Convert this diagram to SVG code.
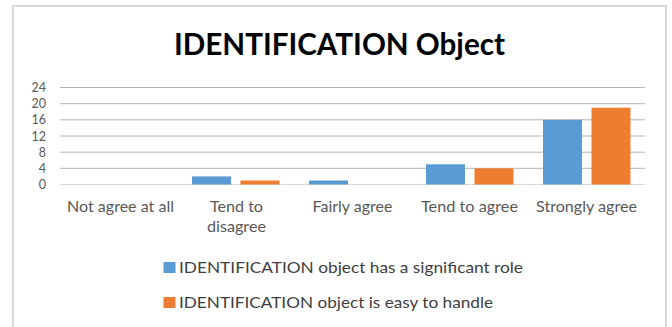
<svg xmlns="http://www.w3.org/2000/svg" width="672" height="327" viewBox="0 0 672 327">
<style>
.grid{stroke:#b4b4b4;stroke-width:1}
.ax{font-family:Lato,"Open Sans",sans-serif;font-size:12.5px;fill:#595959;text-anchor:end}
.cat{font-family:Lato,"Open Sans",sans-serif;font-size:15px;fill:#595959;text-anchor:middle}
.leg{font-family:Lato,"Open Sans",sans-serif;font-size:15px;fill:#404040}
.s1{fill:#5B9BD5}
.s2{fill:#ED7D31}
</style>
<rect x="0" y="0" width="672" height="327" fill="#ffffff"/>
<rect x="13" y="6" width="653" height="335" fill="#ffffff" stroke="#d9d9d9" stroke-width="2"/>
<g id="title">
<text x="339.5" y="55" text-anchor="middle" font-family="Lato,'Open Sans',sans-serif" font-weight="bold" font-size="30" fill="#000000" textLength="331" lengthAdjust="spacingAndGlyphs">IDENTIFICATION Object</text>
</g>
<g id="gridlines">
<line class="grid" x1="60" y1="87.5" x2="645" y2="87.5"/>
<line class="grid" x1="60" y1="103.7" x2="645" y2="103.7"/>
<line class="grid" x1="60" y1="119.8" x2="645" y2="119.8"/>
<line class="grid" x1="60" y1="136" x2="645" y2="136"/>
<line class="grid" x1="60" y1="152.2" x2="645" y2="152.2"/>
<line class="grid" x1="60" y1="168.3" x2="645" y2="168.3"/>
<line x1="60" y1="184.5" x2="645" y2="184.5" stroke="#d9d9d9" stroke-width="1"/>
</g>
<g id="y-axis">
<text class="ax" x="46" y="92">24</text>
<text class="ax" x="46" y="108.2">20</text>
<text class="ax" x="46" y="124.3">16</text>
<text class="ax" x="46" y="140.5">12</text>
<text class="ax" x="46" y="156.7">8</text>
<text class="ax" x="46" y="172.8">4</text>
<text class="ax" x="46" y="189">0</text>
</g>
<g id="bars">
<rect class="s1" x="192" y="176.4" width="39" height="8.1"/>
<rect class="s2" x="240.5" y="180.5" width="39" height="4"/>
<rect class="s1" x="309" y="180.5" width="39" height="4"/>
<rect class="s1" x="426" y="164.3" width="39" height="20.2"/>
<rect class="s2" x="474.5" y="168.3" width="39" height="16.2"/>
<rect class="s1" x="543" y="119.8" width="39" height="64.7"/>
<rect class="s2" x="591.5" y="107.7" width="39" height="76.8"/>
</g>
<g id="categories">
<text class="cat" x="120.5" y="212" textLength="107" lengthAdjust="spacingAndGlyphs">Not agree at all</text>
<text class="cat" x="236.5" y="212" textLength="53" lengthAdjust="spacingAndGlyphs">Tend to</text>
<text class="cat" x="236.5" y="232" textLength="59" lengthAdjust="spacingAndGlyphs">disagree</text>
<text class="cat" x="352.5" y="212" textLength="80" lengthAdjust="spacingAndGlyphs">Fairly agree</text>
<text class="cat" x="469.5" y="212" textLength="97" lengthAdjust="spacingAndGlyphs">Tend to agree</text>
<text class="cat" x="586.5" y="212" textLength="101" lengthAdjust="spacingAndGlyphs">Strongly agree</text>
</g>
<g id="legend">
<rect class="s1" x="163.5" y="262" width="12" height="11"/>
<text class="leg" x="179" y="273" textLength="344" lengthAdjust="spacingAndGlyphs">IDENTIFICATION object has a significant role</text>
<rect class="s2" x="163.5" y="297" width="12" height="11"/>
<text class="leg" x="179" y="308" textLength="314" lengthAdjust="spacingAndGlyphs">IDENTIFICATION object is easy to handle</text>
</g>
</svg>
